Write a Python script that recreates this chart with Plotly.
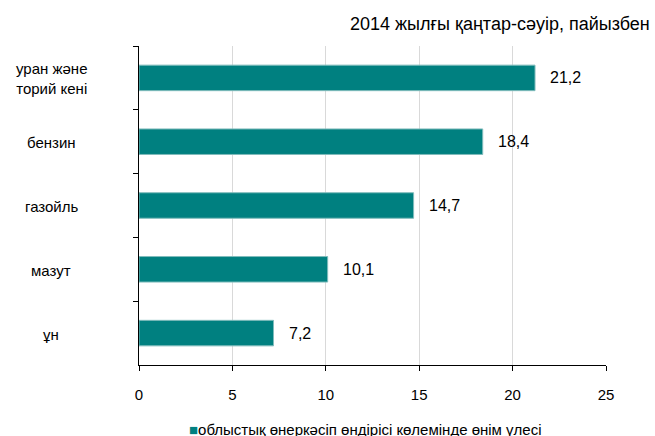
import plotly.graph_objects as go

categories = ["уран және<br>торий кені", "бензин", "газойль", "мазут", "ұн"]
values = [21.2, 18.4, 14.7, 10.1, 7.2]
x_ticks = [0, 5, 10, 15, 20, 25]
series_name = "облыстық өнеркәсіп өндірісі көлемінде өнім үлесі"
title_text = "2014 жылғы қаңтар-сәуір, пайызбен"

FONT = "Liberation Sans, Arial, sans-serif"
TEAL = "#008080"
W_PX, H_PX = 655, 436
L, R, T, B = 139, 49, 46, 71
PW = W_PX - L - R
PH = H_PX - T - B

fig = go.Figure()
fig.add_trace(go.Bar(
    y=categories, x=values, orientation="h",
    marker=dict(color=TEAL, line=dict(color="#80bcbc", width=1)),
    width=0.40, name=series_name, showlegend=False,
))

annotations = []
for c, v in zip(categories, values):
    annotations.append(dict(
        x=v, y=c, xref="x", yref="y", text=f"{v:.1f}".replace(".", ","),
        showarrow=False, xanchor="left", xshift=13,
        font=dict(family=FONT, size=16, color="#000"),
    ))
    annotations.append(dict(
        x=(51 - L) / PW, y=c, xref="paper", yref="y", text=c,
        showarrow=False, xanchor="center", yshift=-1,
        font=dict(family=FONT, size=15, color="#000"),
    ))
# title (top right)
annotations.append(dict(
    x=(652 - L) / PW, y=1 + (T - 24) / PH, xref="paper", yref="paper",
    text=title_text, showarrow=False, xanchor="right", yanchor="middle",
    font=dict(family=FONT, size=18, color="#000"),
))
# legend (bottom, centered)
annotations.append(dict(
    x=(365 - L) / PW, y=-(429 - (H_PX - B)) / PH, xref="paper", yref="paper",
    text=f"<span style='color:{TEAL}'>■</span>{series_name}",
    showarrow=False, xanchor="center", yanchor="middle",
    font=dict(family=FONT, size=15, color="#000"),
))

fig.update_layout(
    width=W_PX, height=H_PX,
    margin=dict(l=L, r=R, t=T, b=B, autoexpand=False),
    paper_bgcolor="white", plot_bgcolor="white",
    font=dict(family=FONT, size=15, color="#000"),
    annotations=annotations,
    showlegend=False,
)
fig.update_xaxes(
    range=[0, 25], tickvals=x_ticks, ticktext=[str(t) for t in x_ticks],
    showgrid=True, gridcolor="#d9d9d9", gridwidth=1,
    showline=True, linecolor="#000", linewidth=1,
    ticks="outside", ticklen=5, tickcolor="#000",
    ticklabelstandoff=11, zeroline=False,
    tickfont=dict(family=FONT, size=15),
)
fig.update_yaxes(
    autorange="reversed", showline=True, linecolor="#000", linewidth=1,
    ticks="outside", ticklen=5, tickcolor="#000", tickson="boundaries",
    showticklabels=False, showgrid=False,
)
fig.write_html("out.html", config={"displayModeBar": False},
               post_script="document.body.style.margin='0';document.body.style.overflow='hidden';")
